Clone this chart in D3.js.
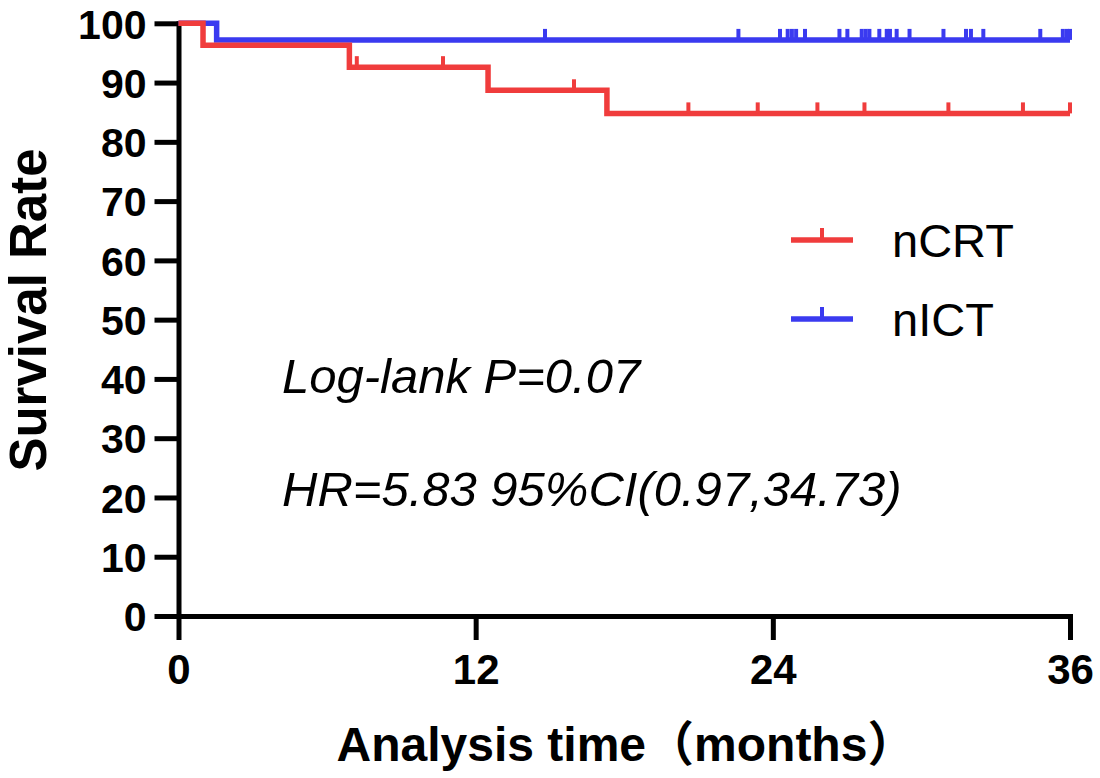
<!DOCTYPE html>
<html>
<head>
<meta charset="utf-8">
<script src="https://cdn.jsdelivr.net/npm/d3@7"></script>
<style>
  body { margin: 0; background: #fff; }
  svg { font-family: "Liberation Sans", Arial, "Noto Sans CJK SC", sans-serif; }
  .axis path, .axis line { stroke: #000; stroke-width: 5; }
  .axis text { font-size: 42px; font-weight: bold; fill: #000; }
</style>
</head>
<body>
<div id="chart"></div>
<script>
// Kaplan-Meier steps (months, survival %)
var nCRTTimes = [0, 0.99, 6.9, 12.5, 17.3, 36];
var nCRTSurv  = [100, 96.3, 92.6, 88.7, 84.8, 84.8];
var nCRTCensor = [7.2, 10.68, 15.97, 20.59, 23.39, 25.8, 27.7, 31.09, 34.1, 36];

var nICTTimes = [0, 1.54, 36];
var nICTSurv  = [100, 97.2, 97.2];
var nICTCensor = [14.8, 22.61, 24.29, 24.6, 24.77, 24.94, 25.3, 26.69, 27.01,
  27.59, 27.75, 27.9, 28.3, 28.6, 28.73, 29.0, 29.52, 30.89, 31.8, 32.0, 32.5,
  34.8, 35.71, 35.87, 36];

var xTicks = [0, 12, 24, 36];
var yTicks = d3.range(0, 101, 10);

var svgWidth = 1100, svgHeight = 778;
var margin = { top: 23.3, right: 30, bottom: 162, left: 178.5 };
var chartWidth = 1070 - margin.left;
var chartHeight = 616 - margin.top;

var svg = d3.select("#chart").append("svg")
  .attr("width", svgWidth)
  .attr("height", svgHeight);

var chartGroup = svg.append("g")
  .attr("transform", `translate(${margin.left}, ${margin.top})`);

var x = d3.scaleLinear().domain([0, 36]).range([0, chartWidth]);
var y = d3.scaleLinear().domain([0, 100]).range([chartHeight, 0]);

// axes
chartGroup.append("g")
  .attr("class", "axis")
  .attr("transform", `translate(0, ${chartHeight})`)
  .call(d3.axisBottom(x).tickValues(xTicks).tickSize(24).tickSizeOuter(0).tickPadding(14));

var yAxis = chartGroup.append("g")
  .attr("class", "axis")
  .call(d3.axisLeft(y).tickValues(yTicks).tickSize(24).tickSizeOuter(0).tickPadding(8));
yAxis.selectAll("text").attr("dy", "0.36em").style("font-size", "41px");

chartGroup.selectAll(".axis .domain").attr("stroke-linecap", "square");

// step value at time t
function survAt(times, surv, t) {
  var i = d3.bisectRight(times, t) - 1;
  return surv[Math.max(0, i)];
}

var stepLine = d3.line()
  .x(d => x(d[0]))
  .y(d => y(d[1]))
  .curve(d3.curveStepAfter);

function drawGroup(times, surv, censor, color) {
  var g = chartGroup.append("g");
  g.append("path")
    .datum(d3.zip(times, surv))
    .attr("d", stepLine)
    .attr("fill", "none")
    .attr("stroke", color)
    .attr("stroke-width", 5.5);

  g.selectAll("line.censor")
    .data(censor)
    .enter()
    .append("line")
    .attr("class", "censor")
    .attr("x1", d => x(d))
    .attr("x2", d => x(d))
    .attr("y1", d => y(survAt(times, surv, d)))
    .attr("y2", d => y(survAt(times, surv, d)) - 11)
    .attr("stroke", color)
    .attr("stroke-width", 4);
}

var blue = "#3a3af0", red = "#f03c3c";
drawGroup(nICTTimes, nICTSurv, nICTCensor, blue);
drawGroup(nCRTTimes, nCRTSurv, nCRTCensor, red);

// legend
var legend = [
  { name: "nCRT", color: red, y: 240 },
  { name: "nICT", color: blue, y: 319 }
];
var lg = svg.selectAll("g.legend")
  .data(legend)
  .enter()
  .append("g")
  .attr("class", "legend")
  .attr("transform", d => `translate(791, ${d.y})`);
lg.append("line")
  .attr("x1", 0).attr("x2", 62)
  .attr("stroke", d => d.color)
  .attr("stroke-width", 5.5);
lg.append("line")
  .attr("x1", 31).attr("x2", 31)
  .attr("y1", 0).attr("y2", -12)
  .attr("stroke", d => d.color)
  .attr("stroke-width", 4);
lg.append("text")
  .attr("x", 101)
  .attr("y", 17)
  .attr("font-size", "47px")
  .text(d => d.name);

// annotations
svg.append("text")
  .attr("x", 282).attr("y", 393)
  .attr("font-size", "49px")
  .attr("font-style", "italic")
  .text("Log-lank P=0.07");

svg.append("text")
  .attr("x", 282).attr("y", 506)
  .attr("font-size", "49px")
  .attr("font-style", "italic")
  .text("HR=5.83 95%CI(0.97,34.73)");

// axis titles
svg.append("text")
  .attr("transform", "translate(46, 310) rotate(-90)")
  .attr("text-anchor", "middle")
  .attr("font-size", "51px")
  .attr("font-weight", "bold")
  .text("Survival Rate");

svg.append("text")
  .attr("x", 626).attr("y", 761)
  .attr("text-anchor", "middle")
  .attr("font-size", "48px")
  .attr("font-weight", "bold")
  .text("Analysis time（months）");
</script>
</body>
</html>
